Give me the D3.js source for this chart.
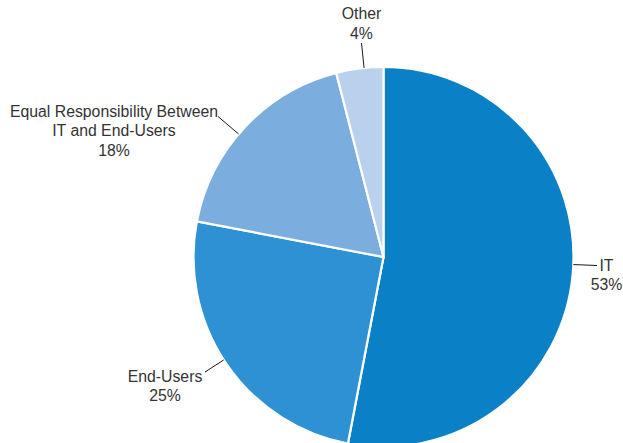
<!DOCTYPE html>
<html>
<head>
<meta charset="utf-8">
<script src="https://cdn.jsdelivr.net/npm/d3@7"></script>
<style>
  html, body { margin: 0; padding: 0; background: #ffffff; }
  svg { display: block; }
  text { font-family: "Liberation Sans", Arial, sans-serif; }
</style>
</head>
<body>
<svg id="chart" width="623" height="443"></svg>
<script>
// ---- data ----
const categories = ["IT", "End-Users", "Equal Responsibility Between IT and End-Users", "Other"];
const categoryLines = [["IT"], ["End-Users"], ["Equal Responsibility Between", "IT and End-Users"], ["Other"]];
const values = [53, 25, 18, 4];
const colors = ["#0A80C7", "#2E91D4", "#7BAEDF", "#BAD1EE"];

// ---- layout (label placement, not data) ----
const cx = 383.5, cy = 257, R = 190;
const labelLayout = [
  { x: 606.5, y: 270.5, lx: 597, ly: 265.5 }, // IT
  { x: 165, y: 381.5, lx: 205, ly: 372 },     // End-Users
  { x: 114, y: 116.5, lx: 218, ly: 116.5 },   // Equal
  { x: 361.5, y: 19, lx: 361.5, ly: 43 }      // Other
];
const lineGap = 19.8;

const svg = d3.select("#chart");
const g = svg.append("g").attr("transform", `translate(${cx},${cy})`);

const pie = d3.pie().sort(null).value(d => d.value).startAngle(0).endAngle(2 * Math.PI);
const arc = d3.arc().innerRadius(0).outerRadius(R);
const data = categories.map((c, i) => ({ name: c, value: values[i], idx: i }));
const arcs = pie(data);

g.selectAll("path.slice")
  .data(arcs)
  .enter().append("path")
  .attr("class", "slice")
  .attr("d", arc)
  .attr("fill", d => colors[d.data.idx])
  .attr("stroke", "#ffffff")
  .attr("stroke-width", 2.2)
  .attr("stroke-linejoin", "miter");

// leader lines: from label anchor toward center, ending on the circle
const leaders = svg.append("g");
arcs.forEach(a => {
  const L = labelLayout[a.data.idx];
  const dx = cx - L.lx, dy = cy - L.ly;
  const dist = Math.sqrt(dx * dx + dy * dy);
  const t = (dist - R) / dist;
  leaders.append("line")
    .attr("x1", L.lx).attr("y1", L.ly)
    .attr("x2", L.lx + dx * t).attr("y2", L.ly + dy * t)
    .attr("stroke", "#1a1a1a")
    .attr("stroke-width", 1);
});

// labels
const labels = svg.append("g");
arcs.forEach(a => {
  const i = a.data.idx;
  const L = labelLayout[i];
  const lines = categoryLines[i].concat([values[i] + "%"]);
  const t = labels.append("text")
    .attr("text-anchor", "middle")
    .attr("font-size", "15.8px")
    .attr("fill", "#333333");
  lines.forEach((s, k) => {
    t.append("tspan").attr("x", L.x).attr("y", L.y + k * lineGap).text(s);
  });
});
</script>
</body>
</html>
